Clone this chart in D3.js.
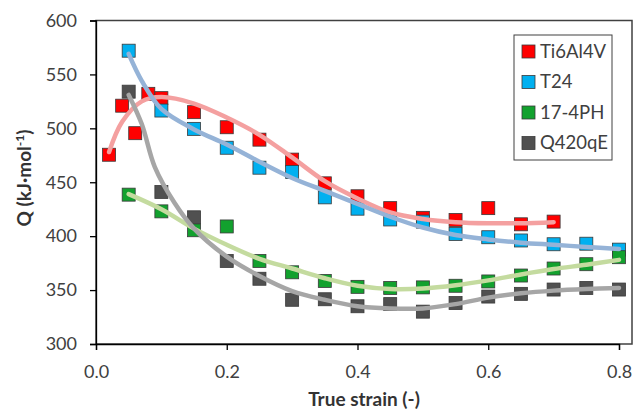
<!DOCTYPE html>
<html><head><meta charset="utf-8">
<script src="https://cdn.jsdelivr.net/npm/d3@7/dist/d3.min.js"></script>
<style>body{margin:0;background:#fff}svg{display:block}</style>
</head><body><svg id="c" width="634" height="410"></svg>
<script>
// ---- data ----
const seriesNames = ["Ti6Al4V", "T24", "17-4PH", "Q420qE"];
const ti6al4vStrain = [0.02,0.04,0.06,0.08,0.10,0.15,0.20,0.25,0.30,0.35,0.40,0.45,0.50,0.55,0.60,0.65,0.70];
const ti6al4vQ = [475.5,521,495.5,532,528,515,501,489.5,471,449,437,426,417,415,426,411,413.5];
const strain = [0.05,0.10,0.15,0.20,0.25,0.30,0.35,0.40,0.45,0.50,0.55,0.60,0.65,0.70,0.75,0.80];
const t24Q = [572,516.5,499.5,482,463.5,459.5,436,425.5,415.5,413.5,402,399,396,392.5,393,387.5];
const ph174Q = [438.5,423,405.5,409,377,366.5,358.5,353,352,352.5,354,358,363.5,370,374,380.5];
const q420Q = [534,441,417.5,377,360.5,341,341.5,335,337,330,338,344,346.5,350.5,352,350.5];
// trend curves
const ti6al4vFitX = [0.02,0.04,0.07,0.10,0.15,0.20,0.25,0.30,0.35,0.40,0.45,0.50,0.55,0.60,0.65,0.70];
const ti6al4vFitQ = [478,506,525,529,523,510,494,473,451,435,422,416,413,412,412,413];
const t24FitX = [0.05,0.07,0.10,0.15,0.20,0.25,0.30,0.35,0.40,0.45,0.50,0.55,0.60,0.65,0.70,0.75,0.80];
const t24FitQ = [569,544,518,499,485,469,454,442,430,418,408,401,397,394,392,390,388];
const ph174FitX = [0.05,0.10,0.15,0.20,0.25,0.30,0.35,0.40,0.45,0.50,0.55,0.60,0.65,0.70,0.75,0.80];
const ph174FitQ = [439,425,407,392,379,370,361,354,351,351.5,354.5,359,364.5,369.5,373.5,378];
const q420FitX = [0.05,0.07,0.09,0.12,0.15,0.20,0.25,0.30,0.35,0.40,0.45,0.50,0.55,0.60,0.65,0.70,0.75,0.80];
const q420FitQ = [531,504,464,431,407,381,363,349,341,335,333,333,337,343,347,349.5,351,352];
const xTicks = [0.0,0.2,0.4,0.6,0.8];
const yTicks = [300,350,400,450,500,550,600];

const markerColors = ["#FF0000","#00B0F0","#12A12E","#505050"];
const fitColors = ["#F4A0A0","#95B3D7","#C4DB9F","#A6A6A6"];

const series = [
  {x: ti6al4vStrain, y: ti6al4vQ, fx: ti6al4vFitX, fy: ti6al4vFitQ},
  {x: strain, y: t24Q, fx: t24FitX, fy: t24FitQ},
  {x: strain, y: ph174Q, fx: ph174FitX, fy: ph174FitQ},
  {x: strain, y: q420Q, fx: q420FitX, fy: q420FitQ}
];

const svg = d3.select("#c");
const font = "Lato, 'Open Sans', sans-serif";
const x = d3.scaleLinear().domain([0,0.8]).range([96,619]);
const y = d3.scaleLinear().domain([300,600]).range([344,20.5]);

// plot frame
svg.append("rect").attr("x",96).attr("y",20.5).attr("width",536).attr("height",323.5)
  .attr("fill","none").attr("stroke","#404040").attr("stroke-width",1.5);

// axes
const xAxis = svg.append("g").attr("transform","translate(0,344)")
  .call(d3.axisBottom(x).tickValues(xTicks).tickFormat(d3.format(".1f")).tickSizeOuter(0).tickSize(6).tickPadding(15));
const yAxis = svg.append("g").attr("transform","translate(96,0)")
  .call(d3.axisLeft(y).tickValues(yTicks).tickFormat(d3.format("d")).tickSizeOuter(0).tickSize(6).tickPadding(13));
[xAxis,yAxis].forEach(g=>{
  g.selectAll("path").attr("stroke","#000").attr("stroke-width",1.3);
  g.selectAll("line").attr("stroke","#000").attr("stroke-width",1.3);
  g.selectAll("text").attr("font-family",font).attr("font-size",18).attr("fill","#404040");
});

// markers
const ms = 13;
series.forEach((s,i)=>{
  svg.append("g").selectAll("rect").data(s.x.map((v,j)=>[v,s.y[j]])).join("rect")
    .attr("x",d=>x(d[0])-ms/2).attr("y",d=>y(d[1])-ms/2).attr("width",ms).attr("height",ms)
    .attr("fill",markerColors[i]).attr("stroke","#3a3a3a").attr("stroke-width",0.8);
});
// trend lines
const line = d3.line().x(d=>x(d[0])).y(d=>y(d[1])).curve(d3.curveCatmullRom.alpha(0.5));
series.forEach((s,i)=>{
  svg.append("path").attr("d",line(s.fx.map((v,j)=>[v,s.fy[j]])))
    .attr("fill","none").attr("stroke",fitColors[i]).attr("stroke-width",4.5).attr("stroke-linecap","round");
});

// legend
const lg = svg.append("g");
lg.append("rect").attr("x",514).attr("y",35).attr("width",98).attr("height",125)
  .attr("fill","#fff").attr("stroke","#404040").attr("stroke-width",1);
seriesNames.forEach((n,i)=>{
  const cy = 51.5 + i*30.5;
  lg.append("rect").attr("x",522).attr("y",cy-6.5).attr("width",13).attr("height",13)
    .attr("fill",markerColors[i]).attr("stroke","#3a3a3a").attr("stroke-width",0.8);
  lg.append("text").attr("x",540).attr("y",cy).attr("dy","0.35em").attr("font-family",font)
    .attr("font-size",18.5).attr("fill","#404040").text(n);
});

// axis titles
svg.append("text").attr("x",364).attr("y",406).attr("text-anchor","middle")
  .attr("font-family",font).attr("font-size",19).attr("font-weight","bold").attr("fill","#333")
  .text("True strain (-)");
const yt = svg.append("text").attr("transform","translate(31,178) rotate(-90)").attr("text-anchor","middle")
  .attr("font-family",font).attr("font-size",19).attr("font-weight","bold").attr("fill","#333");
yt.append("tspan").text("Q (kJ·mol");
yt.append("tspan").attr("dy",-7).attr("font-size",12).text("-1");
yt.append("tspan").attr("dy",7).text(")");
</script></body></html>
